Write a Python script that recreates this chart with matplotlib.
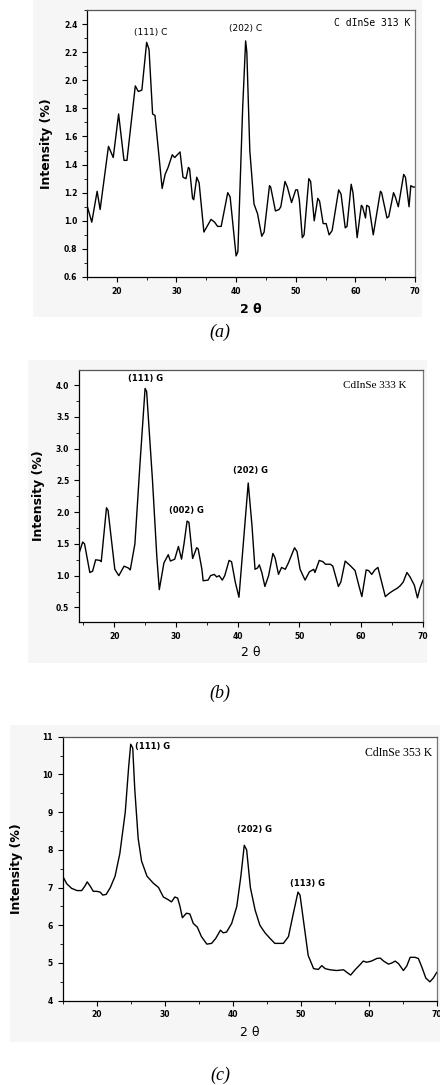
import matplotlib
matplotlib.use("Agg")
import matplotlib.pyplot as plt
from matplotlib.patches import Rectangle
from matplotlib.ticker import MultipleLocator, FormatStrFormatter

# XRD scans of CdInSe films, 2-theta vs intensity
x_313 = [15.0, 15.8, 16.7, 17.2, 18.6, 19.4, 20.3, 21.2, 21.7, 23.1, 23.6, 24.2,
         25.0, 25.4, 26.0, 26.4, 27.6, 28.1, 28.6, 29.3, 29.7, 30.6, 31.1, 31.6,
         32.0, 32.2, 32.7, 32.9, 33.4, 33.8, 34.6, 35.8, 36.4, 36.9, 37.5, 38.6,
         39.0, 40.0, 40.3, 41.1, 41.6, 41.8, 42.3, 43.0, 43.6, 44.3, 44.7, 45.6,
         45.8, 46.6, 47.2, 47.5, 48.2, 48.6, 49.3, 50.0, 50.3, 50.6, 51.1, 51.4,
         52.2, 52.5, 53.1, 53.7, 54.0, 54.6, 55.1, 55.6, 56.1, 57.2, 57.6, 58.3,
         58.6, 59.3, 59.6, 60.3, 61.0, 61.2, 61.7, 61.9, 62.3, 63.0, 64.2, 64.4,
         65.3, 65.6, 66.4, 66.7, 67.2, 68.1, 68.4, 69.0, 69.3, 69.7, 70.0]
y_313 = [1.11, 0.99, 1.21, 1.08, 1.53, 1.45, 1.76, 1.43, 1.43, 1.96, 1.92, 1.93,
         2.27, 2.22, 1.76, 1.75, 1.23, 1.33, 1.38, 1.47, 1.45, 1.49, 1.31, 1.30,
         1.38, 1.37, 1.16, 1.15, 1.31, 1.27, 0.92, 1.01, 0.99, 0.96, 0.96, 1.20,
         1.17, 0.75, 0.78, 1.80, 2.28, 2.20, 1.50, 1.12, 1.05, 0.89, 0.92, 1.25,
         1.24, 1.07, 1.08, 1.10, 1.28, 1.24, 1.13, 1.22, 1.22, 1.15, 0.88, 0.90,
         1.30, 1.28, 1.00, 1.16, 1.14, 0.98, 0.98, 0.90, 0.93, 1.22, 1.19, 0.95,
         0.96, 1.26, 1.20, 0.88, 1.11, 1.10, 1.02, 1.11, 1.10, 0.90, 1.21, 1.20,
         1.02, 1.03, 1.20, 1.17, 1.10, 1.33, 1.31, 1.10, 1.25, 1.24, 1.24]

x_333 = [14.3, 14.9, 15.2, 16.05, 16.5, 17.0, 17.7, 17.9, 18.75, 19.0, 20.1, 20.75,
         21.6, 22.3, 22.6, 23.35, 24.2, 25.0, 25.25, 26.2, 26.9, 27.3, 28.05, 28.75,
         29.1, 29.8, 30.4, 30.9, 31.3, 31.8, 32.1, 32.7, 33.35, 33.6, 34.2, 34.4,
         35.2, 35.6, 36.2, 36.6, 37.0, 37.5, 37.9, 38.6, 39.0, 39.6, 40.2, 40.9,
         41.7, 42.3, 42.8, 43.2, 43.5, 43.9, 44.4, 45.0, 45.7, 46.05, 46.6, 47.1,
         47.7, 48.2, 49.2, 49.6, 50.1, 50.9, 51.6, 52.3, 52.5, 53.2, 53.8, 54.2,
         55.0, 55.4, 56.3, 56.7, 57.4, 58.2, 59.0, 59.6, 60.1, 60.8, 61.2, 61.7,
         62.2, 62.7, 63.3, 63.9, 64.5, 65.1, 65.8, 66.3, 66.8, 67.4, 67.9, 68.6,
         69.1, 69.5, 70.0]
y_333 = [1.35, 1.53, 1.50, 1.05, 1.07, 1.25, 1.24, 1.22, 2.07, 2.03, 1.10, 1.00,
         1.15, 1.12, 1.09, 1.50, 2.80, 3.95, 3.90, 2.50, 1.30, 0.78, 1.20, 1.33,
         1.23, 1.26, 1.46, 1.26, 1.50, 1.86, 1.84, 1.27, 1.44, 1.42, 1.10, 0.92,
         0.93, 1.00, 1.02, 0.98, 1.00, 0.93, 1.00, 1.24, 1.22, 0.90, 0.66, 1.50,
         2.46, 1.80, 1.10, 1.12, 1.17, 1.05, 0.83, 1.00, 1.35, 1.28, 1.02, 1.13,
         1.10, 1.20, 1.44, 1.38, 1.10, 0.93, 1.06, 1.10, 1.05, 1.24, 1.22, 1.18,
         1.18, 1.15, 0.83, 0.90, 1.23, 1.16, 1.08, 0.85, 0.67, 1.09, 1.08, 1.02,
         1.09, 1.13, 0.90, 0.67, 0.72, 0.76, 0.80, 0.84, 0.90, 1.05, 0.98, 0.85,
         0.65, 0.80, 0.93]

x_353 = [15.0, 15.6, 16.3, 17.1, 17.8, 18.3, 18.6, 19.0, 19.5, 20.0, 20.5, 20.9,
         21.4, 22.0, 22.7, 23.4, 24.2, 24.7, 25.0, 25.3, 25.6, 26.1, 26.6, 27.4,
         28.3, 29.1, 29.8, 30.5, 31.0, 31.5, 31.9, 32.25, 32.6, 33.2, 33.7, 34.2,
         34.8, 35.4, 36.2, 36.9, 37.5, 38.2, 38.6, 39.1, 39.85, 40.6, 41.2, 41.7,
         42.05, 42.6, 43.3, 44.0, 44.75, 45.5, 46.2, 47.45, 48.2, 48.9, 49.6, 49.9,
         50.5, 51.1, 51.9, 52.6, 53.1, 53.6, 54.3, 55.3, 56.3, 56.8, 57.35, 58.0,
         58.7, 59.2, 59.7, 60.4, 61.2, 61.7, 62.2, 62.9, 63.4, 63.9, 64.4, 65.1,
         65.6, 66.1, 66.8, 67.3, 67.8, 68.4, 69.0, 69.5, 70.0]
y_353 = [7.30, 7.10, 6.98, 6.92, 6.92, 7.05, 7.15, 7.05, 6.90, 6.90, 6.88, 6.80,
         6.82, 7.00, 7.30, 7.90, 9.00, 10.20, 10.80, 10.70, 9.60, 8.30, 7.70, 7.30,
         7.12, 7.00, 6.75, 6.68, 6.62, 6.75, 6.72, 6.50, 6.20, 6.32, 6.30, 6.05,
         5.95, 5.70, 5.50, 5.52, 5.65, 5.87, 5.80, 5.82, 6.05, 6.50, 7.30, 8.12,
         8.00, 7.00, 6.40, 6.00, 5.80, 5.65, 5.52, 5.52, 5.70, 6.30, 6.88, 6.80,
         6.00, 5.20, 4.85, 4.83, 4.93, 4.85, 4.82, 4.80, 4.82, 4.75, 4.68, 4.82,
         4.95, 5.05, 5.02, 5.05, 5.12, 5.13, 5.05, 4.97, 5.00, 5.05, 4.98, 4.80,
         4.92, 5.15, 5.15, 5.12, 4.90, 4.60, 4.50, 4.60, 4.75]

fig = plt.figure(figsize=(4.4, 10.85), dpi=100)

# faint grey boards behind each graph
for (l, b, w, h) in [(33, 768, 389, 317), (28, 422, 399, 303), (10, 43, 430, 317)]:
    fig.patches.append(Rectangle((l / 440, b / 1085), w / 440, h / 1085,
                                 transform=fig.transFigure, facecolor="#f6f6f6",
                                 edgecolor="none", zorder=-10))


def style_axes(ax, xlim, ylim, ymaj, ymin):
    ax.set_facecolor("white")
    ax.set_xlim(*xlim)
    ax.set_ylim(*ylim)
    ax.xaxis.set_major_locator(MultipleLocator(10))
    ax.xaxis.set_minor_locator(MultipleLocator(5))
    ax.yaxis.set_major_locator(MultipleLocator(ymaj))
    ax.yaxis.set_minor_locator(MultipleLocator(ymin))
    ax.tick_params(which="both", direction="out", top=False, right=False)
    ax.tick_params(which="major", length=3.5, width=0.8, labelsize=5.5)
    ax.tick_params(which="minor", length=2, width=0.6)
    for lab in ax.get_xticklabels() + ax.get_yticklabels():
        lab.set_fontweight("bold")
    for s in ax.spines.values():
        s.set_linewidth(0.9)
    ax.spines["top"].set_color("#555555")
    ax.spines["right"].set_color("#777777")


# (a) 313 K
ax1 = fig.add_axes([87 / 440, 808 / 1085, 328 / 440, 267 / 1085])
ax1.plot(x_313, y_313, color="black", lw=1.0)
style_axes(ax1, (15, 70), (0.6, 2.5), 0.2, 0.1)
ax1.yaxis.set_major_formatter(FormatStrFormatter("%.1f"))
ax1.set_ylabel("Intensity (%)", fontsize=9, fontweight="bold", labelpad=8)
ax1.set_xlabel("2 θ", fontsize=9, fontweight="bold", labelpad=5)
ax1.text(25.6, 2.34, "(111) C", fontsize=6.5, ha="center", va="center")
ax1.text(41.6, 2.365, "(202) C", fontsize=6.5, ha="center", va="center")
ax1.text(69.3, 2.41, "C dInSe 313 K", fontsize=7, ha="right", va="center",
         family="DejaVu Sans Mono")
fig.text(0.5, 1 - 332 / 1085, "(a)", fontsize=13, style="italic",
         family="Liberation Serif", ha="center", va="center")

# (b) 333 K
ax2 = fig.add_axes([79 / 440, 463 / 1085, 344 / 440, 252 / 1085])
ax2.plot(x_333, y_333, color="black", lw=1.0)
style_axes(ax2, (14.3, 70), (0.27, 4.24), 0.5, 0.25)
ax2.yaxis.set_major_formatter(FormatStrFormatter("%.1f"))
ax2.set_ylabel("Intensity (%)", fontsize=9, fontweight="bold", labelpad=8)
ax2.set_xlabel("2 θ", fontsize=9, labelpad=4)
ax2.text(25.1, 4.11, "(111) G", fontsize=6, fontweight="bold", ha="center", va="center")
ax2.text(31.7, 2.02, "(002) G", fontsize=6, fontweight="bold", ha="center", va="center")
ax2.text(42.0, 2.65, "(202) G", fontsize=6, fontweight="bold", ha="center", va="center")
ax2.text(67.3, 3.99, "CdInSe 333 K", fontsize=8, ha="right", va="center",
         family="Liberation Serif")
fig.text(0.5, 1 - 693 / 1085, "(b)", fontsize=13, style="italic",
         family="Liberation Serif", ha="center", va="center")

# (c) 353 K
ax3 = fig.add_axes([62.7 / 440, 84.3 / 1085, 374 / 440, 264 / 1085])
ax3.plot(x_353, y_353, color="black", lw=1.0)
style_axes(ax3, (15, 70), (4, 11), 1, 0.5)
ax3.set_ylabel("Intensity (%)", fontsize=9, fontweight="bold", labelpad=14)
ax3.set_xlabel("2 θ", fontsize=9, labelpad=5)
ax3.text(25.6, 10.73, "(111) G", fontsize=6, fontweight="bold", ha="left", va="center")
ax3.text(43.2, 8.55, "(202) G", fontsize=6, fontweight="bold", ha="center", va="center")
ax3.text(51.0, 7.12, "(113) G", fontsize=6, fontweight="bold", ha="center", va="center")
ax3.text(69.3, 10.57, "CdInSe 353 K", fontsize=8.5, ha="right", va="center",
         family="Liberation Serif")
fig.text(0.5, 1 - 1075 / 1085, "(c)", fontsize=13, style="italic",
         family="Liberation Serif", ha="center", va="center")

fig.savefig("out.png", dpi=100)
